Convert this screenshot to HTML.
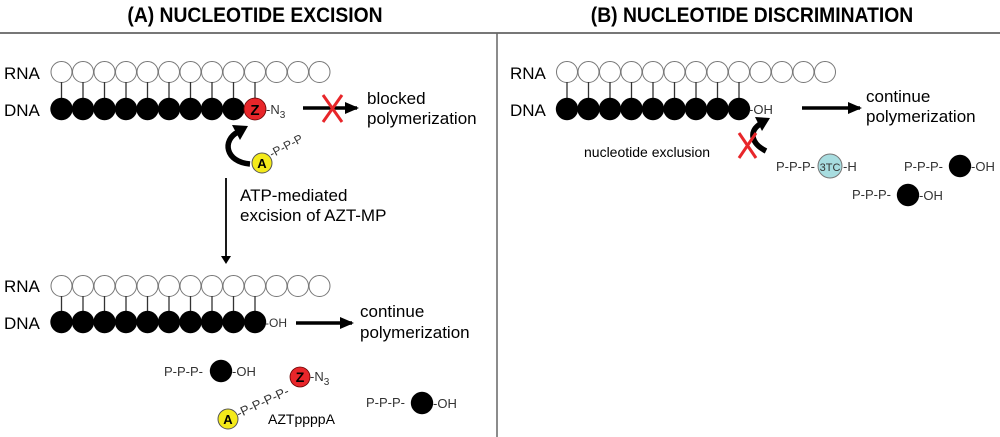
<!DOCTYPE html>
<html><head><meta charset="utf-8"><style>
html,body{margin:0;padding:0;background:#fff;}
svg{display:block;font-family:"Liberation Sans",sans-serif;}
</style></head><body>
<svg width="1000" height="437" viewBox="0 0 1000 437" xmlns="http://www.w3.org/2000/svg">
<defs>
<circle id="w" r="10.5" fill="#fff" stroke="#777" stroke-width="1"/>
<circle id="b" r="11.2" fill="#000"/>
<g id="rw">
<use href="#w" x="0"/><use href="#w" x="21.5"/><use href="#w" x="43"/><use href="#w" x="64.5"/><use href="#w" x="86"/><use href="#w" x="107.5"/><use href="#w" x="129"/><use href="#w" x="150.5"/><use href="#w" x="172"/><use href="#w" x="193.5"/><use href="#w" x="215"/><use href="#w" x="236.5"/><use href="#w" x="258"/>
</g>
<g id="st" stroke="#333" stroke-width="1.3">
<line x1="0" y1="10" x2="0" y2="30"/><line x1="21.5" y1="10" x2="21.5" y2="30"/><line x1="43" y1="10" x2="43" y2="30"/><line x1="64.5" y1="10" x2="64.5" y2="30"/><line x1="86" y1="10" x2="86" y2="30"/><line x1="107.5" y1="10" x2="107.5" y2="30"/><line x1="129" y1="10" x2="129" y2="30"/><line x1="150.5" y1="10" x2="150.5" y2="30"/><line x1="172" y1="10" x2="172" y2="30"/><line x1="193.5" y1="10" x2="193.5" y2="30"/>
</g>
<g id="b9">
<use href="#b" x="0"/><use href="#b" x="21.5"/><use href="#b" x="43"/><use href="#b" x="64.5"/><use href="#b" x="86"/><use href="#b" x="107.5"/><use href="#b" x="129"/><use href="#b" x="150.5"/><use href="#b" x="172"/>
</g>
<marker id="ah" markerWidth="8" markerHeight="10" refX="6" refY="5" orient="auto" markerUnits="userSpaceOnUse"><path d="M0,0 L8,5 L0,10 z" fill="#000"/></marker>
<marker id="ah2" markerWidth="14" markerHeight="12" refX="12" refY="6" orient="auto" markerUnits="userSpaceOnUse"><path d="M0,0 L14,6 L0,12 z" fill="#000"/></marker>
</defs>

<!-- titles -->
<text x="255" y="22" font-size="21" font-weight="bold" text-anchor="middle" transform="translate(255 0) scale(0.92 1) translate(-255 0)">(A)  NUCLEOTIDE EXCISION</text>
<text x="752" y="22" font-size="21" font-weight="bold" text-anchor="middle" transform="translate(752 0) scale(0.92 1) translate(-752 0)">(B)  NUCLEOTIDE DISCRIMINATION</text>
<line x1="0" y1="33" x2="1000" y2="33" stroke="#777" stroke-width="2"/>
<line x1="497" y1="33" x2="497" y2="437" stroke="#666" stroke-width="1.5"/>

<!-- Panel A top -->
<text x="4" y="79" font-size="17">RNA</text>
<text x="4" y="116" font-size="17">DNA</text>
<use href="#rw" x="61.5" y="72"/>
<use href="#st" x="61.5" y="72"/>
<use href="#b9" x="61.5" y="109"/>
<circle cx="255" cy="109" r="11" fill="#e8262a" stroke="#600" stroke-width="0.8"/>
<text x="255" y="115" font-size="15" font-weight="bold" text-anchor="middle">Z</text>
<text x="266" y="114" font-size="13" fill="#333">-N<tspan font-size="10" dy="4">3</tspan></text>
<line x1="303" y1="108" x2="357" y2="108" stroke="#000" stroke-width="3.5" marker-end="url(#ah2)"/>
<path d="M323,95 L342,122 M342,95 L323,122" stroke="#e8262a" stroke-width="3"/>
<text x="367" y="104" font-size="17">blocked</text>
<text x="367" y="124" font-size="17">polymerization</text>
<!-- curved arrow -->
<path d="M250,164 C225,162 222,140 238,132" fill="none" stroke="#000" stroke-width="5.5"/>
<path d="M232,125 L248,126 L240,140 z" fill="#000"/>
<circle cx="262" cy="163" r="10" fill="#f4ea1a" stroke="#555" stroke-width="1"/>
<text x="262" y="168" font-size="13" font-weight="bold" text-anchor="middle">A</text>
<text x="272" y="158" font-size="12" fill="#333" transform="rotate(-28 272 158)">-P-P-P</text>
<line x1="226" y1="178" x2="226" y2="262" stroke="#000" stroke-width="1.8" marker-end="url(#ah)"/>
<text x="240" y="201" font-size="17">ATP-mediated</text>
<text x="240" y="221" font-size="17">excision of AZT-MP</text>

<!-- Panel A bottom -->
<text x="4" y="292" font-size="17">RNA</text>
<text x="4" y="329" font-size="17">DNA</text>
<use href="#rw" x="61.5" y="286"/>
<use href="#st" x="61.5" y="286"/>
<use href="#b9" x="61.5" y="322"/>
<use href="#b" x="255" y="322"/>
<text x="265" y="327" font-size="12" fill="#333">-OH</text>
<line x1="296" y1="323" x2="352" y2="323" stroke="#000" stroke-width="3.5" marker-end="url(#ah2)"/>
<text x="360" y="317" font-size="17">continue</text>
<text x="360" y="338" font-size="17">polymerization</text>
<text x="164" y="376" font-size="13" fill="#333">P-P-P-</text>
<use href="#b" x="221" y="371"/>
<text x="232" y="376" font-size="13" fill="#333">-OH</text>
<circle cx="300" cy="377" r="10" fill="#e8262a" stroke="#600" stroke-width="0.8"/>
<text x="300" y="382" font-size="14" font-weight="bold" text-anchor="middle">Z</text>
<text x="310" y="381" font-size="13" fill="#333">-N<tspan font-size="10" dy="4">3</tspan></text>
<text x="239" y="418" font-size="13" fill="#333" transform="rotate(-25 239 418)">-P-P-P-P-</text>
<circle cx="228" cy="419" r="10" fill="#f4ea1a" stroke="#555" stroke-width="1"/>
<text x="228" y="424" font-size="13" font-weight="bold" text-anchor="middle">A</text>
<text x="268" y="424" font-size="14">AZTppppA</text>
<text x="366" y="407" font-size="13" fill="#333">P-P-P-</text>
<use href="#b" x="422" y="403"/>
<text x="433" y="408" font-size="13" fill="#333">-OH</text>

<!-- Panel B -->
<text x="510" y="79" font-size="17">RNA</text>
<text x="510" y="116" font-size="17">DNA</text>
<use href="#rw" x="567" y="72"/>
<g stroke="#333" stroke-width="1.3"><line x1="567" y1="82" x2="567" y2="100"/><line x1="588.5" y1="82" x2="588.5" y2="100"/><line x1="610" y1="82" x2="610" y2="100"/><line x1="631.5" y1="82" x2="631.5" y2="100"/><line x1="653" y1="82" x2="653" y2="100"/><line x1="674.5" y1="82" x2="674.5" y2="100"/><line x1="696" y1="82" x2="696" y2="100"/><line x1="717.5" y1="82" x2="717.5" y2="100"/><line x1="739" y1="82" x2="739" y2="100"/></g>
<use href="#b9" x="567" y="109"/>
<text x="749" y="114" font-size="13" fill="#333">-OH</text>
<line x1="802" y1="108" x2="860" y2="108" stroke="#000" stroke-width="3.5" marker-end="url(#ah2)"/>
<text x="866" y="102" font-size="17">continue</text>
<text x="866" y="122" font-size="17">polymerization</text>
<path d="M766,151 C752,144 748,132 760,124" fill="none" stroke="#000" stroke-width="5.5"/>
<path d="M755,117 L770,118 L762,131 z" fill="#000"/>
<path d="M739,133 L756,158 M756,133 L739,158" stroke="#e8262a" stroke-width="3"/>
<text x="584" y="157" font-size="14">nucleotide exclusion</text>
<text x="776" y="171" font-size="13" fill="#333">P-P-P-</text>
<circle cx="830" cy="166" r="12" fill="#a8dde0" stroke="#777" stroke-width="1"/>
<text x="830" y="171" font-size="11" text-anchor="middle" fill="#333">3TC</text>
<text x="843" y="171" font-size="13" fill="#333">-H</text>
<text x="904" y="171" font-size="13" fill="#333">P-P-P-</text>
<use href="#b" x="960" y="166"/>
<text x="971" y="171" font-size="13" fill="#333">-OH</text>
<text x="852" y="199" font-size="13" fill="#333">P-P-P-</text>
<use href="#b" x="908" y="195"/>
<text x="919" y="200" font-size="13" fill="#333">-OH</text>
</svg>
</body></html>
